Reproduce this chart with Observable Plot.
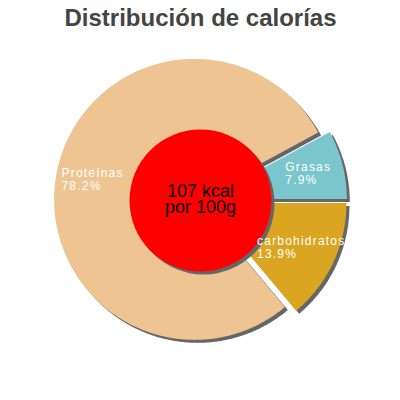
<!DOCTYPE html>
<html>
<head>
<meta charset="utf-8">
<script src="https://cdn.jsdelivr.net/npm/d3@7"></script>
<script src="https://cdn.jsdelivr.net/npm/@observablehq/plot@0.6"></script>
<style>
  html, body { margin: 0; padding: 0; background: #fff; }
  #chart svg { display: block; }
</style>
</head>
<body>
<div id="chart"></div>
<script>
// ---- data ----
const title = "Distribución de calorías";
const categories = ["Grasas", "Proteínas", "carbohidratos"];
const percents = [7.9, 78.2, 13.9];
const colors = ["#7bc5cd", "#edc492", "#daa520"];
const energyLine = "107 kcal";
const basisLine = "por 100g";

// ---- layout ----
const W = 400, H = 400;
const cx = 200, cy = 200;      // pie centre
const R = 140.5;               // pie radius
const explode = 6;             // slice offset
const labelR = 110.5;          // label radius
const innerR = 71;             // red disc radius
const font = "Liberation Sans, Arial, sans-serif";
const labelSize = 12, letterSp = 1.2;

// counter-clockwise from 3 o'clock
const arcs = d3.pie().sort(null).startAngle(Math.PI / 2).endAngle(Math.PI / 2 - 2 * Math.PI)(percents);

const pt = (a, r, ox, oy) => ({x: ox + r * Math.sin(a), y: oy - r * Math.cos(a)});

const slicePts = [];
const labels = [];
const ctx = document.createElement("canvas").getContext("2d");
ctx.font = `${labelSize}px "Liberation Sans"`;
const lineW = s => ctx.measureText(s).width + letterSp * (s.length - 1);

arcs.forEach((a, i) => {
  const mid = (a.startAngle + a.endAngle) / 2;
  const o = pt(mid, explode, cx, cy);
  slicePts.push({cat: categories[i], x: o.x, y: o.y});
  const n = Math.max(2, Math.ceil(Math.abs(a.endAngle - a.startAngle) / (Math.PI / 360)));
  for (let k = 0; k <= n; k++) {
    const ang = a.startAngle + (a.endAngle - a.startAngle) * k / n;
    const p = pt(ang, R, o.x, o.y);
    slicePts.push({cat: categories[i], x: p.x, y: p.y});
  }
  const lp = pt(mid, labelR, cx, cy);
  const l1 = categories[i], l2 = `${percents[i]}%`;
  const bw = Math.max(lineW(l1), lineW(l2));
  labels.push({text: `${l1}\n${l2}`, x: lp.x - bw / 2, y: lp.y});
});

const plot = Plot.plot({
  width: W, height: H,
  margin: 0,
  style: {fontFamily: font, background: "#fff"},
  x: {domain: [0, W], range: [0, W], axis: null},
  y: {domain: [0, H], range: [0, H], axis: null},
  color: {domain: categories, range: colors},
  marks: [
    Plot.line(slicePts, {x: "x", y: "y", z: "cat", fill: "#666", stroke: "none", curve: "linear-closed", dx: 3, dy: 3}),
    Plot.line(slicePts, {x: "x", y: "y", z: "cat", fill: "cat", stroke: "none", curve: "linear-closed"}),
    Plot.dot([{x: cx, y: cy}], {x: "x", y: "y", r: innerR, fill: "#666", stroke: "none", dx: 3, dy: 3}),
    Plot.dot([{x: cx, y: cy}], {x: "x", y: "y", r: innerR, fill: "#ff0000", stroke: "none"}),
    Plot.text([{x: cx, y: cy}], {x: "x", y: "y", text: () => `${energyLine}\n${basisLine}`, fontSize: 18, lineHeight: 0.93, fill: "#000", textAnchor: "middle", lineAnchor: "middle", dy: -1}),
    Plot.text(labels, {x: "x", y: "y", text: "text", fontSize: labelSize, lineHeight: 1.08, fill: "#fff", textAnchor: "start", lineAnchor: "middle"}),
    Plot.text([title], {frameAnchor: "top", fontSize: 24, fontWeight: "bold", fill: "#444", lineAnchor: "top", dy: 8})
  ]
});
// letter-spacing for the white slice labels
d3.select(plot).selectAll("text").filter(function () {
  const f = this.getAttribute("fill") || (this.parentNode && this.parentNode.getAttribute("fill"));
  return f === "#fff" || f === "white";
}).style("letter-spacing", letterSp + "px");
d3.select(plot).selectAll("g[fill='#fff'] text").style("letter-spacing", letterSp + "px");
document.getElementById("chart").appendChild(plot);
</script>
</body>
</html>
